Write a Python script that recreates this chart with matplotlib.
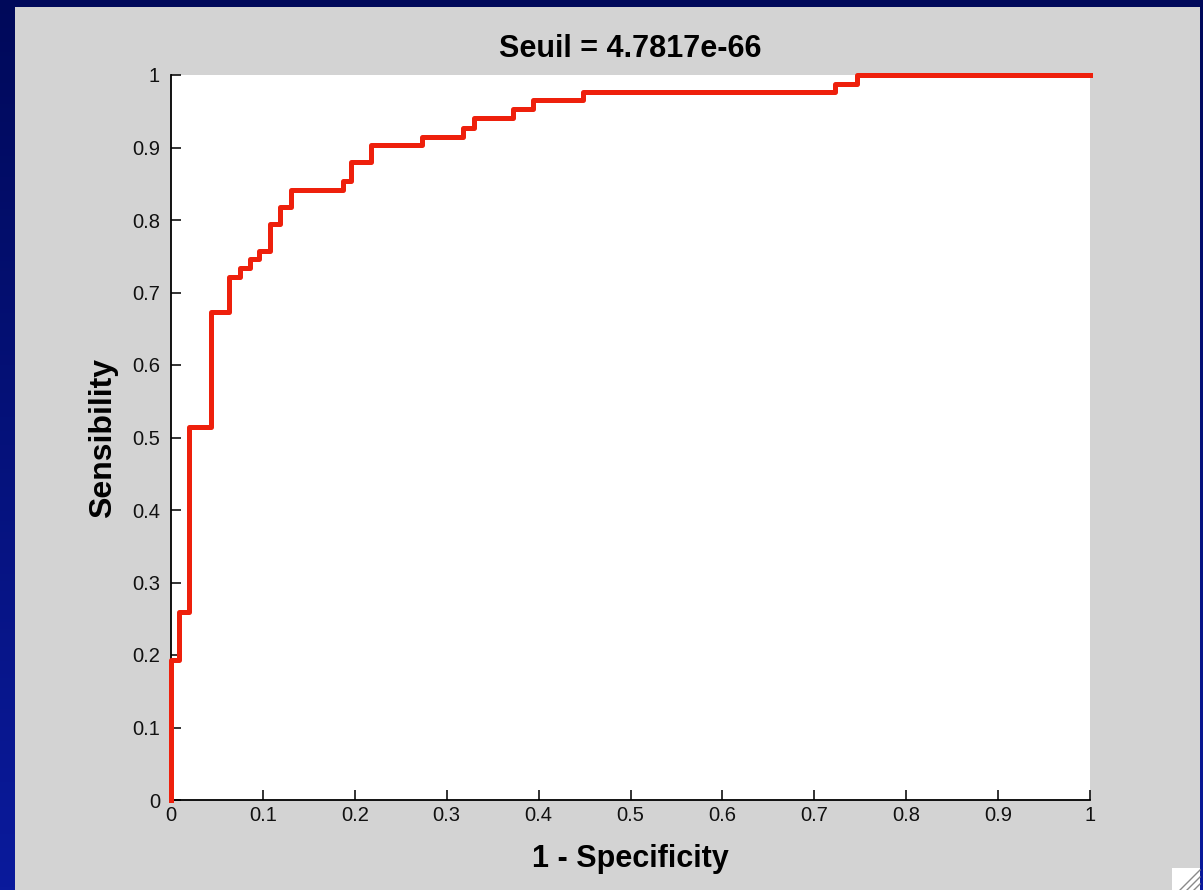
import numpy as np
import matplotlib
matplotlib.use("Agg")
import matplotlib.pyplot as plt
from matplotlib.patches import Rectangle

plt.rcParams['font.family'] = ['Liberation Sans', 'DejaVu Sans']

# ROC corners: jump position on x, new level on y
fpr = [0, 0, 0.009, 0.0196, 0.043, 0.0635, 0.075, 0.0863, 0.096, 0.1077, 0.119,
       0.131, 0.187, 0.1955, 0.218, 0.2735, 0.318, 0.330, 0.3725, 0.394, 0.4485,
       0.723, 0.746, 1.0]
tpr = [0, 0.193, 0.259, 0.514, 0.673, 0.722, 0.734, 0.746, 0.757, 0.795, 0.818,
       0.842, 0.854, 0.880, 0.903, 0.915, 0.927, 0.941, 0.953, 0.965, 0.976,
       0.988, 1.0, 1.0]
ticks = [0, 0.1, 0.2, 0.3, 0.4, 0.5, 0.6, 0.7, 0.8, 0.9, 1]
title_text = "Seuil = 4.7817e-66"

W, H = 1203, 890
fig = plt.figure(figsize=(W / 100, H / 100), dpi=100)

# slide background (navy gradient) with the grey matlab window on it
bg = fig.add_axes([0, 0, 1, 1], zorder=-1)
grad = np.linspace(0, 1, 256).reshape(-1, 1)
bg.imshow(grad, extent=[0, 1, 0, 1], aspect='auto', origin='upper',
          cmap=matplotlib.colors.LinearSegmentedColormap.from_list(
              'slide', ['#00095a', '#0a1a9c']))
bg.add_patch(Rectangle((15 / W, 0), (1200 - 15) / W, (H - 7) / H,
                       facecolor='#d3d3d3', edgecolor='none'))
# resize grip in the corner
bg.add_patch(Rectangle((1172 / W, 0), 28 / W, 22 / H, facecolor='white', edgecolor='none'))
for k in range(3):
    off = 7 * k
    bg.plot([(1180 + off) / W, 1200 / W], [0, (20 - off) / H], color='#8a8a8a', lw=1)
bg.set_xlim(0, 1)
bg.set_ylim(0, 1)
bg.axis('off')

ax = fig.add_axes([171 / W, (H - 800) / H, (1090 - 171) / W, (800 - 75) / H])
ax.set_facecolor('white')
ax.step(fpr, tpr, where='post', color='#ee200c', lw=3.6, clip_on=False, zorder=3)

ax.set_xlim(0, 1)
ax.set_ylim(0, 1)
ax.set_xticks(ticks)
ax.set_yticks(ticks)
ax.set_xticklabels(['%g' % t for t in ticks])
ax.set_yticklabels(['%g' % t for t in ticks])
ax.tick_params(direction='in', length=7, width=1.2, labelsize=14.5, colors='#111111')
ax.tick_params(axis='y', pad=8)
ax.tick_params(axis='x', pad=4)
for s in ['top', 'right']:
    ax.spines[s].set_visible(False)
for s in ['left', 'bottom']:
    ax.spines[s].set_linewidth(1.3)

ax.set_title(title_text, fontsize=22, fontweight='bold', pad=13)
ax.set_xlabel('1 - Specificity', fontsize=22, fontweight='bold', labelpad=14)
ax.set_ylabel('Sensibility', fontsize=23, fontweight='bold', labelpad=10)

plt.savefig('out.png', dpi=100)
